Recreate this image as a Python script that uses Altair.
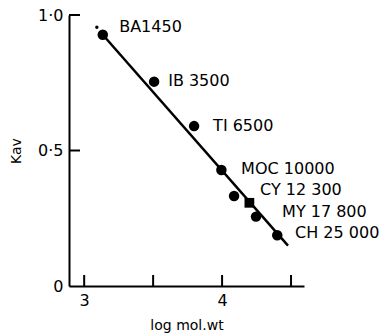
import altair as alt
import pandas as pd

# data
names = ["BA1450", "IB 3500", "TI 6500", "MOC 10000", "CY 12 300", "MY 17 800", "CH 25 000"]
log_mw = [3.135, 3.507, 3.797, 3.995, 4.087, 4.246, 4.40]
kav = [0.927, 0.754, 0.590, 0.428, 0.332, 0.256, 0.187]
label_x = [3.254, 3.609, 3.935, 4.138, 4.275, 4.435, 4.529]
label_y = [0.956, 0.756, 0.590, 0.432, 0.354, 0.273, 0.196]

square_x = [4.198]
square_y = [0.307]

fit_x = [3.135, 4.478]
fit_y = [0.927, 0.149]
start_dot_x = [3.092]
start_dot_y = [0.955]

x_ticks = [3, 3.5, 4, 4.5]
y_ticks = [0.5, 1.0]

FONT = "DejaVu Sans"

pts = pd.DataFrame({"x": log_mw, "y": kav, "name": names})
labs = pd.DataFrame({"x": label_x, "y": label_y, "name": names})
sq = pd.DataFrame({"x": square_x, "y": square_y})
fit = pd.DataFrame({"x": fit_x, "y": fit_y})
dot = pd.DataFrame({"x": start_dot_x, "y": start_dot_y})
xt = pd.DataFrame({"x": x_ticks})
yt = pd.DataFrame({"y": y_ticks})

xscale = alt.Scale(domain=[2.89, 4.594], nice=False, zero=False)
yscale = alt.Scale(domain=[0, 1.0], nice=False)

xaxis = alt.Axis(values=[3, 4], ticks=False, grid=False, domainColor="black", domainWidth=2,
                 labelFont=FONT, labelFontSize=16, labelColor="black", labelPadding=6,
                 title="log mol.wt", titleFont=FONT, titleFontSize=14, titleFontWeight="normal",
                 titleColor="black", titlePadding=10, format="d")
yaxis = alt.Axis(values=[0, 0.5, 1.0], ticks=False, grid=False, domainColor="black", domainWidth=2,
                 labelFont=FONT, labelFontSize=16, labelColor="black", labelPadding=6,
                 labelExpr="datum.value == 0 ? '0' : replace(format(datum.value, '.1f'), '.', '·')",
                 title="Kav", titleFont=FONT, titleFontSize=14, titleFontWeight="normal",
                 titleColor="black", titlePadding=14)

X = lambda: alt.X("x:Q", scale=xscale, axis=xaxis)
Y = lambda: alt.Y("y:Q", scale=yscale, axis=yaxis)

line = alt.Chart(fit).mark_line(color="black", strokeWidth=2.5).encode(x=X(), y=Y())
startdot = alt.Chart(dot).mark_circle(color="black", opacity=1, size=12).encode(x="x:Q", y="y:Q")
circles = alt.Chart(pts).mark_circle(color="black", opacity=1, size=110).encode(x="x:Q", y="y:Q")
squares = alt.Chart(sq).mark_square(color="black", opacity=1, size=95).encode(x="x:Q", y="y:Q")
texts = alt.Chart(labs).mark_text(font=FONT, fontSize=16, align="left", baseline="middle",
                                  color="black").encode(x="x:Q", y="y:Q", text="name:N")
xtick = alt.Chart(xt).mark_rule(color="black", strokeWidth=2).encode(
    x="x:Q", y=alt.value(271), y2=alt.value(260))
ytick = alt.Chart(yt).mark_rule(color="black", strokeWidth=2).encode(
    y="y:Q", x=alt.value(0), x2=alt.value(11))

chart = alt.layer(line, startdot, circles, squares, texts, xtick, ytick).properties(
    width=235, height=271,
    autosize=alt.AutoSizeParams(type="none"),
    padding={"left": 69, "top": 15, "right": 81, "bottom": 50},
    background="white",
).configure_view(stroke=None)

chart.save("out.html", embed_options={"renderer": "svg", "actions": False})
